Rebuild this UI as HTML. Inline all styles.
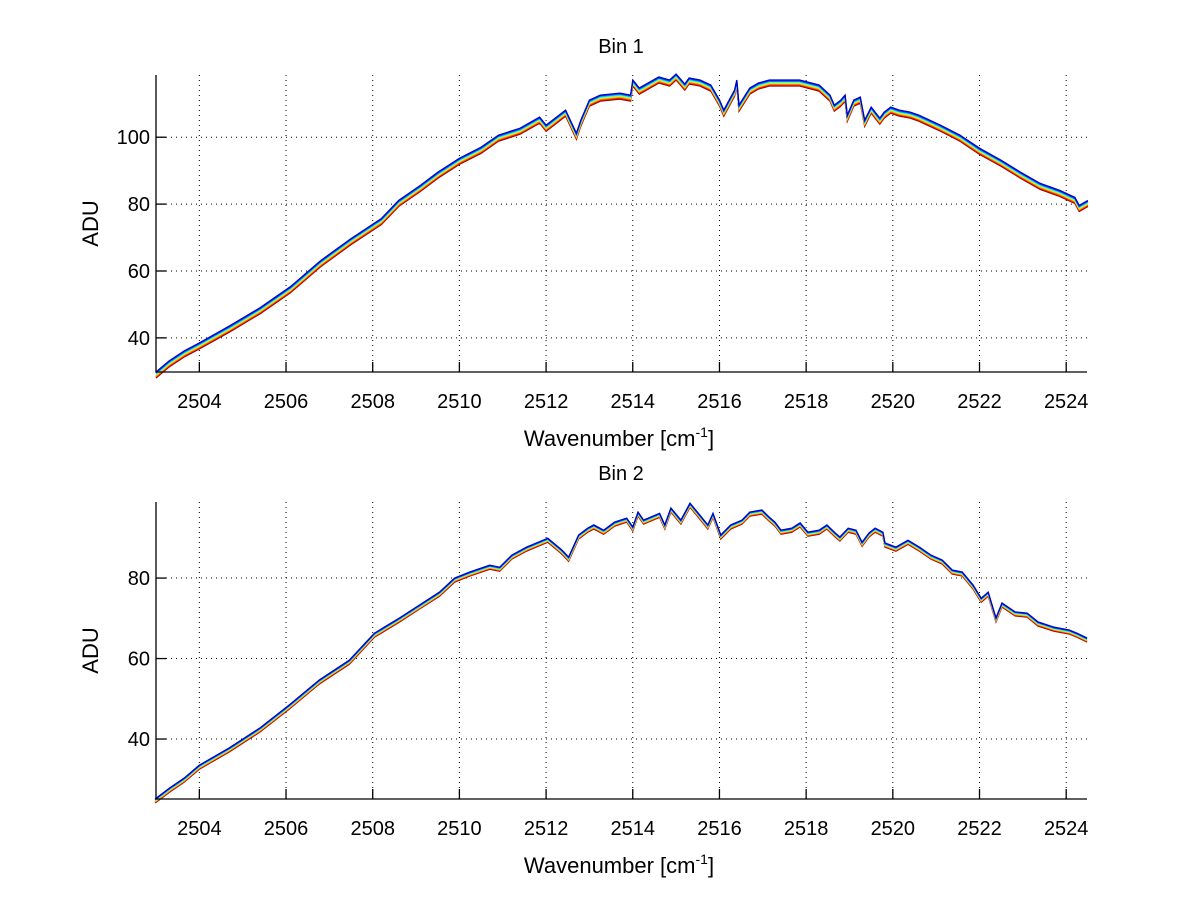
<!DOCTYPE html>
<html><head><meta charset="utf-8"><style>
html,body{margin:0;padding:0;background:#fff;}
svg{display:block;font-family:"Liberation Sans",Arial,sans-serif;}
</style></head><body>
<svg id="fig" width="1200" height="901" viewBox="0 0 1200 901"></svg>
<script>
// Panel 1 (Bin 1) data
const w1 = [2503.0,2503.3,2503.65,2504,2504.7,2505.4,2506.1,2506.8,2507.5,2508.2,2508.6,2509.1,2509.5,2510.0,2510.5,2510.9,2511.4,2511.85,2512.0,2512.3,2512.45,2512.7,2512.8,2513.0,2513.25,2513.7,2513.95,2514.0,2514.15,2514.6,2514.85,2515.0,2515.2,2515.3,2515.55,2515.8,2516.0,2516.1,2516.35,2516.4,2516.45,2516.7,2516.9,2517.15,2517.4,2517.85,2518.3,2518.55,2518.65,2518.8,2518.9,2518.95,2519.1,2519.25,2519.35,2519.5,2519.7,2519.8,2519.95,2520.15,2520.4,2520.6,2521.1,2521.55,2522.0,2522.5,2522.95,2523.4,2523.85,2524.2,2524.3,2524.5];
const adu1 = [29.8,33.1,36.1,38.5,43.6,49,55.3,63.1,69.7,75.7,81.1,85.6,89.5,93.7,97,100.6,102.7,106,103.6,106.6,108.1,101.2,105.1,111.1,112.6,113.2,112.6,117.1,114.7,118,117.1,118.9,115.9,117.7,117.1,115.6,111.1,108.1,114.1,117.1,109.6,114.7,116.2,117.1,117.1,117.1,115.6,112.6,109.6,111.1,112.6,106.6,111.1,112,105.1,109,105.7,107.5,109,108.1,107.5,106.6,103.6,100.6,96.7,93.1,89.5,86.2,84.1,82,79.6,81.1];
// Panel 2 (Bin 2) data
const w2 = [2502.98,2503.31,2503.65,2504,2504.69,2505.39,2506.08,2506.77,2507.46,2508.04,2508.62,2509.08,2509.54,2509.89,2510.24,2510.7,2510.93,2511.21,2511.55,2512.04,2512.36,2512.52,2512.75,2512.96,2513.1,2513.33,2513.58,2513.86,2514.0,2514.12,2514.25,2514.62,2514.74,2514.88,2515.11,2515.32,2515.55,2515.73,2515.85,2516.03,2516.26,2516.52,2516.7,2516.98,2517.14,2517.28,2517.42,2517.67,2517.86,2518.04,2518.3,2518.48,2518.67,2518.78,2518.97,2519.15,2519.29,2519.45,2519.59,2519.77,2519.82,2520.07,2520.35,2520.61,2520.88,2521.14,2521.37,2521.6,2521.85,2522.04,2522.2,2522.38,2522.52,2522.82,2523.1,2523.35,2523.72,2524.07,2524.25,2524.48];
const adu2 = [25.1,27.8,30.3,33.5,37.8,42.7,48.5,54.7,59.6,66.3,70.1,73.3,76.5,80,81.5,83.2,82.7,85.7,87.7,89.9,87,85.2,90.7,92.4,93.2,91.9,93.9,94.9,92.7,96.4,94.4,96.1,93.2,97.4,94.4,98.6,95.6,93.2,96.1,90.7,93.2,94.4,96.4,96.9,95.2,93.9,91.9,92.4,93.7,91.4,91.9,93.2,91.2,90.2,92.4,91.9,88.9,91.2,92.4,91.4,88.7,87.7,89.4,87.7,85.7,84.5,82,81.5,78.3,75,76.5,70.1,73.8,71.6,71.3,69.1,67.8,67.1,66.3,65.1];
const xTicks = [2504,2506,2508,2510,2512,2514,2516,2518,2520,2522,2524];
const yTicks1 = [40,60,80,100];
const yTicks2 = [40,60,80];
const titles = ["Bin 1","Bin 2"];

const NS="http://www.w3.org/2000/svg";
const svg=document.getElementById('fig');
function mk(tag,attrs,parent){const e=document.createElementNS(NS,tag);for(const k in attrs)e.setAttribute(k,attrs[k]);(parent||svg).appendChild(e);return e;}
const colors=["#800000","#d00000","#ff4000","#ff9000","#ffe000","#a0ff60","#20ffe0","#00a0ff","#0040ff","#0000c0"];

function panel(idx,top,bottom,ymin,ymax,w,a,yTicks,band){
  const L=156,R=1087,xmin=2503,xmax=2524.48;
  const X=v=>L+(v-xmin)/(xmax-xmin)*(R-L);
  const Y=v=>bottom-(v-ymin)/(ymax-ymin)*(bottom-top);
  const g=mk('g',{});
  
  
  xTicks.forEach(t=>{
    const l=mk('line',{x1:X(t),x2:X(t),y1:top,y2:bottom,stroke:'#000','stroke-width':1,'stroke-dasharray':'1,4'},g);
    
    
  });
  yTicks.forEach(t=>{
    const l=mk('line',{x1:L,x2:R,y1:Y(t),y2:Y(t),stroke:'#000','stroke-width':1,'stroke-dasharray':'1,4'},g);
    
    
  });
  colors.forEach((c,i)=>{
    const off=(colors.length-1-i)*band/(colors.length-1);
    const d=w.map((v,k)=>(k?'L':'M')+X(v).toFixed(1)+','+Y(a[k]-off).toFixed(1)).join('');
    const p=mk('path',{d:d,fill:'none',stroke:c,'stroke-width':1.3,'stroke-linejoin':'miter'},g);
    
    
  });
  const ax=mk('path',{d:`M${L},${top}V${bottom}H${R}`,fill:'none',stroke:'#000','stroke-width':1.3},g);
  
  
  xTicks.forEach(t=>{
    mk('line',{x1:X(t),x2:X(t),y1:bottom,y2:bottom-10,stroke:'#000','stroke-width':1.3},g);
    const tx=mk('text',{x:X(t),y:bottom+36,'font-size':20,'text-anchor':'middle'},g);
    tx.textContent=t;
    
    
  });
  yTicks.forEach(t=>{
    mk('line',{x1:L,x2:L+10,y1:Y(t),y2:Y(t),stroke:'#000','stroke-width':1.3},g);
    const tx=mk('text',{x:L-6,y:Y(t)+7,'font-size':20,'text-anchor':'end'},g);
    tx.textContent=t;
    
    
  });
  const ti=mk('text',{x:621,y:top-22,'font-size':20,'text-anchor':'middle'},g);
  ti.textContent=titles[idx];
  
  
  const xl=mk('text',{x:619,y:bottom+74,'font-size':22,'text-anchor':'middle'},g);
  xl.innerHTML='Wavenumber [cm<tspan dy="-9" font-size="14">-1</tspan><tspan dy="9">]</tspan>';
  
  
  const yl=mk('text',{x:0,y:0,'font-size':22,'text-anchor':'middle',transform:`translate(98,${(top+bottom)/2}) rotate(-90)`},g);
  yl.textContent='ADU';
  
  
}
panel(0,75,372,29.8,118.6,w1,adu1,yTicks1,1.8);
panel(1,502,799,25.1,98.9,w2,adu2,yTicks2,1.0);
</script>
</body></html>
